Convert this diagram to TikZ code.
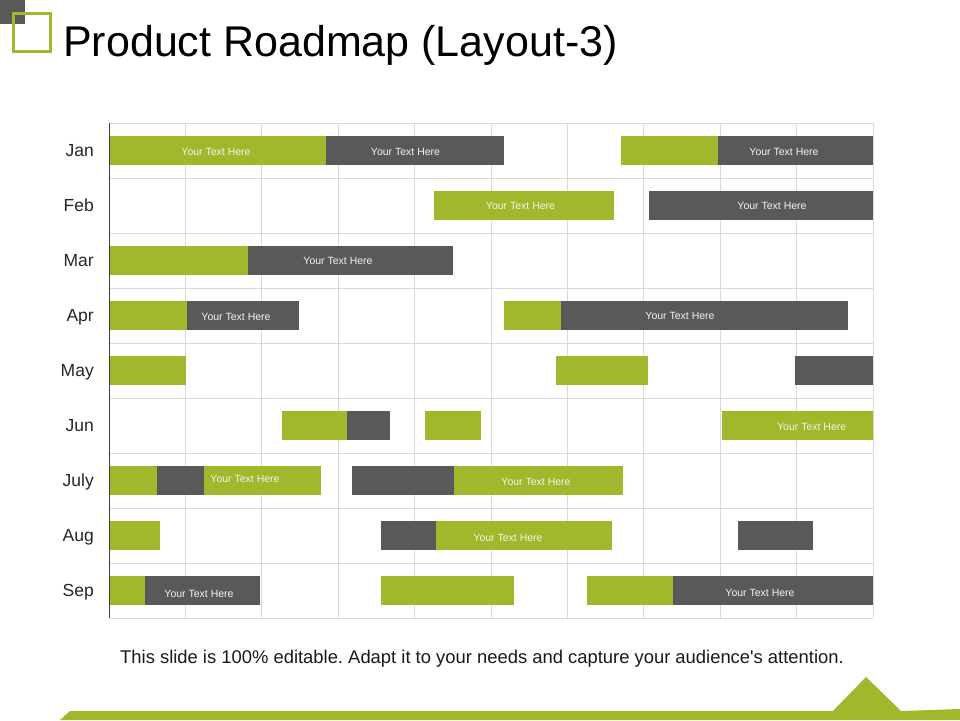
\documentclass[tikz,border=0pt]{standalone}
\usepackage{fontspec}
\setmainfont{Liberation Sans}
\definecolor{rmgreen}{HTML}{A2B72B}
\definecolor{rmgray}{HTML}{595959}
\definecolor{gridc}{HTML}{D9D9D9}
\definecolor{axisc}{HTML}{404040}
\definecolor{bartext}{HTML}{F4F4EC}
\newcommand\rbar[4]{\fill[#4] (#2,{150.5+55*(#1-1)-14.5}) rectangle (#3,{150.5+55*(#1-1)+14.5});}
\frenchspacing
\begin{document}
\begin{tikzpicture}[x=1pt,y=-1pt,
  bt/.style={anchor=base,text=bartext,inner sep=0pt,font=\fontsize{10.5}{12}\selectfont},
  month/.style={anchor=base east,inner sep=0pt,text=black!85,font=\fontsize{17.5}{20}\selectfont},
  gridline/.style={draw=gridc,line width=0.8pt}]
\useasboundingbox (0,0) rectangle (960,720);
\fill[white] (0,0) rectangle (960,720);
% icon
\fill[rmgray] (0,0) rectangle (25,24);
\draw[rmgreen,line width=3pt] (13.5,13.5) rectangle (50.5,51.5);
% title
\node[anchor=base west,inner sep=0pt,font=\fontsize{43}{50}\selectfont] (title) at (63,56) {Product Roadmap (Layout-3)};
% grid
\foreach \i in {1,...,10} \draw[gridline] ({109+76.4*\i},123) -- ({109+76.4*\i},618);
\foreach \j in {0,...,9} \draw[gridline] (109,{123+55*\j}) -- (873,{123+55*\j});
% bars
\rbar{1}{109}{326}{rmgreen}\rbar{1}{326}{504}{rmgray}\rbar{1}{621}{718}{rmgreen}\rbar{1}{718}{873}{rmgray}
\rbar{2}{434}{614}{rmgreen}\rbar{2}{649}{873}{rmgray}
\rbar{3}{109}{248}{rmgreen}\rbar{3}{248}{453}{rmgray}
\rbar{4}{109}{187}{rmgreen}\rbar{4}{187}{299}{rmgray}\rbar{4}{504}{561}{rmgreen}\rbar{4}{561}{848}{rmgray}
\rbar{5}{109}{186}{rmgreen}\rbar{5}{556}{648}{rmgreen}\rbar{5}{795}{873}{rmgray}
\rbar{6}{282}{347}{rmgreen}\rbar{6}{347}{390}{rmgray}\rbar{6}{425}{481}{rmgreen}\rbar{6}{722}{873}{rmgreen}
\rbar{7}{109}{157}{rmgreen}\rbar{7}{157}{204}{rmgray}\rbar{7}{204}{321}{rmgreen}\rbar{7}{352}{454}{rmgray}\rbar{7}{454}{623}{rmgreen}
\rbar{8}{109}{160}{rmgreen}\rbar{8}{381}{436}{rmgray}\rbar{8}{436}{612}{rmgreen}\rbar{8}{738}{813}{rmgray}
\rbar{9}{109}{145}{rmgreen}\rbar{9}{145}{260}{rmgray}\rbar{9}{381}{514}{rmgreen}\rbar{9}{587}{673}{rmgreen}\rbar{9}{673}{873}{rmgray}
% axis
\draw[axisc,line width=1pt] (109,123) -- (109,618);
% bar texts
\node[bt] (t1) at (216,155.8) {Your Text Here};
\node[bt] (t2) at (405.5,155.8) {Your Text Here};
\node[bt] (t3) at (784,155.8) {Your Text Here};
\node[bt] (t4) at (520.5,209.8) {Your Text Here};
\node[bt] (t5) at (772,209.8) {Your Text Here};
\node[bt] (t6) at (338,264.8) {Your Text Here};
\node[bt] (t7) at (236,320.8) {Your Text Here};
\node[bt] (t8) at (680,319.8) {Your Text Here};
\node[bt] (t9) at (811.7,430.8) {Your Text Here};
\node[bt] (t10) at (245,482.8) {Your Text Here};
\node[bt] (t11) at (536,485.8) {Your Text Here};
\node[bt] (t12) at (508,541.8) {Your Text Here};
\node[bt] (t13) at (199,597.8) {Your Text Here};
\node[bt] (t14) at (760,596.8) {Your Text Here};
% months
\foreach \m [count=\k] in {Jan,Feb,Mar,Apr,May,Jun,July,Aug,Sep}
  \node[month] (m\k) at (94,{150.5+55*(\k-1)+6.3}) {\m};
% footer
\node[anchor=base,inner sep=0pt,font=\fontsize{18.4}{22}\selectfont,text=black!90] (foot) at (482,663) {This slide is 100\% editable. Adapt it to your needs and capture your audience\textquotesingle s attention.};
\fill[rmgreen] (60,720) -- (70,711) -- (833,711) -- (866,677) -- (901,711) -- (960,709) -- (960,720) -- cycle;
\end{tikzpicture}
\end{document}
